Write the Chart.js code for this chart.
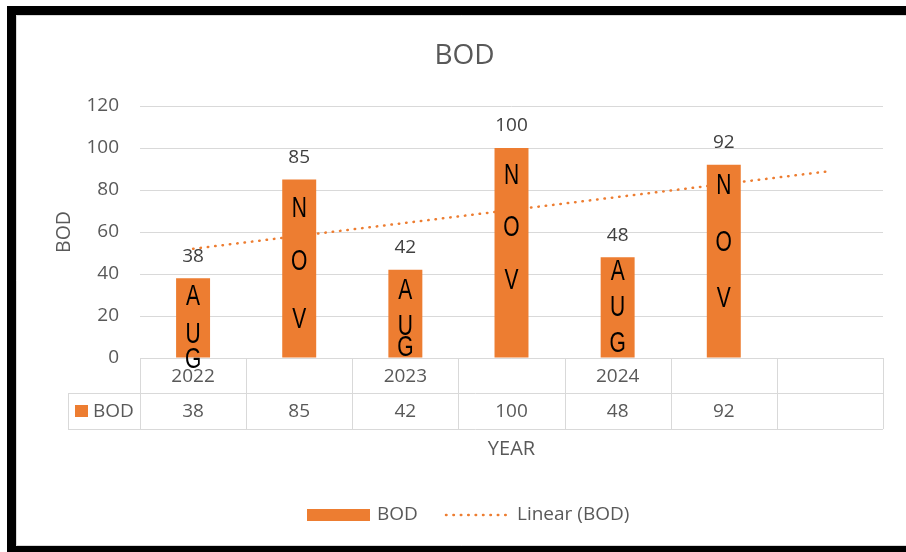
<!DOCTYPE html>
<html>
<head>
<meta charset="utf-8">
<title>BOD</title>
<script src="https://cdn.jsdelivr.net/npm/chart.js@4.4.1/dist/chart.umd.min.js"></script>
<style>
  html, body { margin: 0; padding: 0; background: #fff; }
  canvas { display: block; }
</style>
</head>
<body>
<canvas id="bodChart" width="906" height="552"></canvas>
<script>
// ---- data ----
const categories = ['2022', '', '2023', '', '2024', '', ''];
const bodValues = [38, 85, 42, 100, 48, 92, null];
// linear trend, start and end values
const trendValues = [52, null, null, null, null, null, 89];
const yTicks = [0, 20, 40, 60, 80, 100, 120];
// hand-written month notes on each bar, with the value level of each letter
const noteLetters = [
  ['A', 'U', 'G'], ['N', 'O', 'V'], ['A', 'U', 'G'],
  ['N', 'O', 'V'], ['A', 'U', 'G'], ['N', 'O', 'V']
];
const noteLevels = [
  [29, 11, -1], [71, 46, 18], [32, 15, 5],
  [87, 62, 37], [41, 24, 7], [82, 55, 28]
];

// ---- style ----
const ORANGE = '#ED7D31';
const GRID = '#d9d9d9';
const TEXT = '#595959';
const DARK = '#404040';
const FONT = '"Open Sans", "Noto Sans", sans-serif';
const NOTE_FONT = '"Liberation Sans", "DejaVu Sans", sans-serif';

function text(ctx, s, x, y, size, color, align) {
  ctx.font = size + 'px ' + FONT;
  ctx.fillStyle = color;
  ctx.textAlign = align || 'center';
  ctx.textBaseline = 'middle';
  ctx.fillText(s, x, y);
}

const decor = {
  id: 'decor',
  beforeDraw(chart) {
    const ctx = chart.ctx;
    ctx.save();
    ctx.fillStyle = '#fff';
    ctx.fillRect(0, 0, chart.width, chart.height);
    // black frame
    ctx.fillStyle = '#000';
    ctx.fillRect(7, 6, chart.width - 7, 9);
    ctx.fillRect(7, 6, 9, chart.height - 6);
    ctx.fillRect(7, 546, chart.width - 7, 6);
    // thin chart-area border
    ctx.strokeStyle = GRID;
    ctx.lineWidth = 1;
    ctx.beginPath();
    ctx.moveTo(chart.width, 15.5);
    ctx.lineTo(16.5, 15.5);
    ctx.lineTo(16.5, 545.5);
    ctx.lineTo(chart.width, 545.5);
    ctx.stroke();
    ctx.restore();
  },
  afterDraw(chart) {
    const ctx = chart.ctx;
    const ca = chart.chartArea;
    const xs = chart.scales.x;
    const ys = chart.scales.y;
    const n = categories.length;
    const cw = (ca.right - ca.left) / n;
    const row0 = ca.bottom, row1 = ca.bottom + 35, row2 = ca.bottom + 71;
    const keyLeft = 68;
    ctx.save();

    // title
    text(ctx, 'BOD', (ca.left + ca.right) / 2 - 47, 56, 28, TEXT);

    // y axis title
    ctx.save();
    ctx.translate(64, (ca.top + ca.bottom) / 2);
    ctx.rotate(-Math.PI / 2);
    text(ctx, 'BOD', 0, 0, 19.5, TEXT);
    ctx.restore();

    // data table grid
    ctx.strokeStyle = GRID;
    ctx.lineWidth = 1;
    ctx.beginPath();
    ctx.moveTo(ca.left, row0 + 0.5); ctx.lineTo(ca.right, row0 + 0.5);
    ctx.moveTo(keyLeft, row1 + 0.5); ctx.lineTo(ca.right, row1 + 0.5);
    ctx.moveTo(keyLeft, row2 + 0.5); ctx.lineTo(ca.right, row2 + 0.5);
    ctx.moveTo(keyLeft + 0.5, row1); ctx.lineTo(keyLeft + 0.5, row2);
    for (let k = 0; k <= n; k++) {
      const x = Math.round(ca.left + k * cw) + 0.5;
      ctx.moveTo(x, row0); ctx.lineTo(x, row2);
    }
    ctx.stroke();

    // data table texts
    for (let i = 0; i < n; i++) {
      const x = xs.getPixelForValue(i);
      text(ctx, categories[i], x, (row0 + row1) / 2 + 1, 19, TEXT);
      const v = bodValues[i];
      text(ctx, v === null ? '' : String(v), x, (row1 + row2) / 2 + 0.5, 19, TEXT);
    }
    ctx.fillStyle = ORANGE;
    ctx.fillRect(keyLeft + 7, row1 + 12, 13, 12);
    text(ctx, 'BOD', keyLeft + 25, (row1 + row2) / 2 + 0.5, 19, TEXT, 'left');

    // x axis title
    text(ctx, 'YEAR', (ca.left + ca.right) / 2, 449, 20, TEXT);

    // legend
    const ly = 515;
    ctx.fillStyle = ORANGE;
    ctx.fillRect(307, ly - 6, 63, 12);
    text(ctx, 'BOD', 377, ly, 19, TEXT, 'left');
    ctx.strokeStyle = ORANGE;
    ctx.lineWidth = 2.5;
    ctx.lineCap = 'round';
    ctx.setLineDash([0.5, 6.9]);
    ctx.beginPath();
    ctx.moveTo(446, ly); ctx.lineTo(508, ly);
    ctx.stroke();
    ctx.setLineDash([]);
    ctx.lineCap = 'butt';
    text(ctx, 'Linear (BOD)', 517, ly, 19, TEXT, 'left');

    // value labels above bars
    const meta = chart.getDatasetMeta(0);
    meta.data.forEach((bar, i) => {
      const v = bodValues[i];
      if (v === null) return;
      text(ctx, String(v), bar.x, bar.y - 22, 19, DARK);
    });

    // hand-written notes: thin, narrow letters stacked down each bar
    ctx.fillStyle = '#000';
    ctx.textAlign = 'center';
    ctx.textBaseline = 'middle';
    meta.data.forEach((bar, i) => {
      if (!noteLetters[i]) return;
      noteLetters[i].forEach((ch, j) => {
        ctx.save();
        ctx.translate(bar.x, ys.getPixelForValue(noteLevels[i][j]));
        ctx.scale(0.7, 1);
        ctx.font = '300 30px ' + NOTE_FONT;
        ctx.fillText(ch, 0, 0);
        ctx.restore();
      });
    });

    ctx.restore();
  }
};

new Chart(document.getElementById('bodChart'), {
  type: 'bar',
  data: {
    labels: categories,
    datasets: [
      {
        type: 'bar',
        label: 'BOD',
        data: bodValues,
        backgroundColor: ORANGE,
        borderWidth: 0,
        barPercentage: 0.32,
        categoryPercentage: 1,
        order: 0
      },
      {
        type: 'line',
        label: 'Linear (BOD)',
        data: trendValues,
        spanGaps: true,
        borderColor: ORANGE,
        borderWidth: 2.5,
        borderDash: [0.5, 6.9],
        borderCapStyle: 'round',
        pointRadius: 0,
        fill: false,
        tension: 0,
        order: 1
      }
    ]
  },
  options: {
    responsive: false,
    animation: false,
    devicePixelRatio: 1,
    layout: { padding: { top: 106, right: 23, bottom: 0, left: 0 } },
    plugins: {
      legend: { display: false },
      title: { display: false },
      tooltip: { enabled: false }
    },
    scales: {
      x: {
        offset: true,
        grid: { display: false },
        border: { display: false },
        ticks: { display: false },
        afterFit(scale) { scale.height = 194; }
      },
      y: {
        min: 0,
        max: 120,
        afterBuildTicks(scale) { scale.ticks = yTicks.map(v => ({ value: v })); },
        grid: { color: GRID, lineWidth: 1, drawTicks: false },
        border: { display: false },
        ticks: {
          padding: 21,
          color: TEXT,
          font: { family: FONT, size: 19 }
        },
        afterFit(scale) { scale.width = 140; }
      }
    }
  },
  plugins: [decor]
});
</script>
</body>
</html>
